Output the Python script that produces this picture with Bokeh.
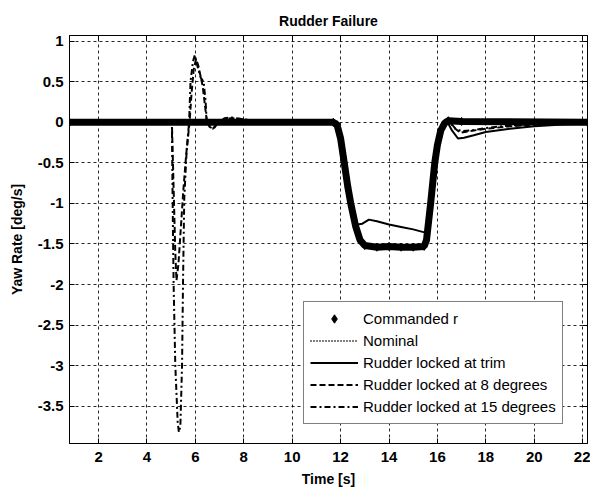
from bokeh.plotting import figure
from bokeh.models import FixedTicker, LinearAxis, Legend, LegendItem
from bokeh.embed import file_html
from bokeh.resources import INLINE

# ---------------- data ----------------
x_ticks = [2, 4, 6, 8, 10, 12, 14, 16, 18, 20, 22]
y_ticks = [-3.5, -3, -2.5, -2, -1.5, -1, -0.5, 0, 0.5, 1]
y_tick_labels = ["-3.5", "-3", "-2.5", "-2", "-1.5", "-1", "-0.5", "0", "0.5", "1"]

t_cmd = [0.8, 11.7, 11.85, 12.0, 12.15, 12.3, 12.42, 12.62, 12.8, 13.0, 13.5, 14.0, 14.5, 15.0, 15.45,
         15.55, 15.72, 15.89, 16.0, 16.14, 16.3, 16.45, 17.0, 22.2]
r_cmd = [0, 0, -0.03, -0.2, -0.5, -0.8, -1.0, -1.28, -1.45, -1.52, -1.54, -1.53, -1.54, -1.54, -1.53,
         -1.45, -1.0, -0.5, -0.28, -0.1, -0.01, 0.02, 0.01, 0]

t_nom = [0.8, 11.7, 11.85, 12.0, 12.15, 12.3, 12.42, 12.62, 12.8, 13.0, 13.5, 14.0, 14.5, 15.0, 15.45,
         15.55, 15.72, 15.89, 16.0, 16.14, 16.3, 16.45, 17.0, 22.2]
r_nom = [0, 0, -0.03, -0.2, -0.5, -0.8, -1.0, -1.28, -1.45, -1.52, -1.53, -1.53, -1.53, -1.53, -1.52,
         -1.44, -1.0, -0.5, -0.28, -0.1, -0.01, 0.02, 0.01, 0]

t_trim = [0.8, 11.7, 11.85, 12.0, 12.15, 12.3, 12.42, 12.55, 12.69, 12.9, 13.17, 13.5, 14.0, 14.5, 15.0,
          15.5, 15.6, 15.75, 15.9, 16.1, 16.3, 16.42, 16.6, 16.85, 17.1, 17.5, 18.0, 19.0, 20.0, 21.0, 22.2]
r_trim = [0, 0, -0.03, -0.2, -0.5, -0.8, -1.0, -1.15, -1.26, -1.25, -1.2, -1.22, -1.26, -1.29, -1.32,
          -1.36, -1.3, -0.95, -0.5, -0.15, -0.02, 0.0, -0.1, -0.2, -0.19, -0.16, -0.12, -0.08, -0.05, -0.03, -0.02]

t_8 = [0.8, 5.03, 5.1, 5.17, 5.22, 5.3, 5.4, 5.5, 5.62, 5.76, 5.84, 5.93, 6.03, 6.12, 6.3, 6.4, 6.48,
       6.6, 6.75, 6.9, 7.2, 7.5, 7.9, 8.4, 9.5, 11.7, 11.85, 12.0, 12.15, 12.3, 12.42, 12.62, 12.8, 13.0,
       14.0, 15.0, 15.45, 15.55, 15.72, 15.89, 16.0, 16.14, 16.3, 16.5, 16.7, 16.95, 17.3, 18.0, 19.0,
       20.0, 21.0, 22.2]
r_8 = [0, 0, -0.8, -1.6, -1.95, -1.75, -1.3, -0.85, -0.4, 0.0, 0.35, 0.65, 0.78, 0.7, 0.45, 0.2, 0.0,
       -0.06, -0.08, -0.02, 0.04, 0.05, 0.04, 0.02, 0, 0, -0.03, -0.2, -0.5, -0.8, -1.0, -1.28, -1.45, -1.52,
       -1.53, -1.53, -1.52, -1.44, -1.0, -0.5, -0.28, -0.1, -0.01, 0.01, -0.07, -0.13, -0.11, -0.08, -0.05,
       -0.03, -0.01, 0]

t_15 = [0.8, 5.03, 5.06, 5.1, 5.17, 5.27, 5.32, 5.38, 5.45, 5.49, 5.54, 5.64, 5.74, 5.8, 5.9, 5.98,
        6.08, 6.22, 6.34, 6.42, 6.47, 6.6, 6.72, 6.9, 7.2, 7.5, 7.9, 8.4, 9.5, 11.7, 11.85, 12.0, 12.15,
        12.3, 12.42, 12.62, 12.8, 13.0, 14.0, 15.0, 15.45, 15.55, 15.72, 15.89, 16.0, 16.14, 16.3, 16.5,
        16.75, 17.0, 17.4, 18.0, 19.0, 20.0, 21.0, 22.2]
r_15 = [0, 0, -0.95, -1.97, -2.99, -3.7, -3.82, -3.75, -2.99, -1.97, -0.95, -0.35, 0.0, 0.5, 0.75, 0.83,
        0.7, 0.55, 0.5, 0.27, 0.0, -0.05, -0.08, -0.02, 0.05, 0.06, 0.04, 0.02, 0, 0, -0.03, -0.2, -0.5,
        -0.8, -1.0, -1.28, -1.45, -1.52, -1.53, -1.53, -1.52, -1.44, -1.0, -0.5, -0.28, -0.1, -0.01, 0.01,
        -0.08, -0.11, -0.1, -0.07, -0.04, -0.02, -0.01, 0]

x_range = (0.8, 22.2)
y_range = (-3.96, 1.07)

# ---------------- figure ----------------
FONT = "Liberation Sans"
p = figure(width=590, height=489, x_range=x_range, y_range=y_range,
           output_backend="svg", toolbar_location=None,
           min_border_left=69, min_border_right=3, min_border_top=35, min_border_bottom=44,
           title="Rudder Failure")
p.title.align = "center"
p.title.text_font = FONT
p.title.text_font_style = "bold"
p.title.text_font_size = "14px"
p.title.text_color = "black"
p.title.standoff = 13

p.outline_line_color = "black"
p.outline_line_width = 1
p.background_fill_color = "white"
p.border_fill_color = "white"

xt = FixedTicker(ticks=x_ticks, minor_ticks=[])
yt = FixedTicker(ticks=y_ticks, minor_ticks=[])

for ax in (p.xaxis[0], p.yaxis[0]):
    ax.major_tick_in = 5
    ax.major_tick_out = 0
    ax.minor_tick_line_color = None
    ax.axis_line_color = "black"
    ax.major_tick_line_color = "black"
    ax.major_label_text_font = FONT
    ax.major_label_text_font_style = "bold"
    ax.major_label_text_font_size = "15px"
    ax.major_label_text_color = "black"
    ax.axis_label_text_font = FONT
    ax.axis_label_text_font_style = "bold"
    ax.axis_label_text_font_size = "14px"
    ax.axis_label_text_color = "black"

p.xaxis[0].ticker = xt
p.yaxis[0].ticker = yt
p.xaxis[0].axis_label = "Time [s]"
p.yaxis[0].axis_label = "Yaw Rate [deg/s]"
p.xaxis[0].major_label_standoff = 8
p.xaxis[0].axis_label_standoff = 6
p.yaxis[0].major_label_standoff = 6
p.yaxis[0].axis_label_standoff = 10
p.yaxis[0].major_label_overrides = {float(v): s for v, s in zip(y_ticks, y_tick_labels)}

# box ticks on top and right (no labels)
for loc, tk in (("above", xt), ("right", yt)):
    ax = LinearAxis(ticker=tk)
    ax.major_tick_in = 5
    ax.major_tick_out = 0
    ax.minor_tick_line_color = None
    ax.axis_line_color = "black"
    ax.major_tick_line_color = "black"
    ax.major_label_text_font_size = "1px"
    ax.major_label_text_color = None
    ax.major_label_standoff = 0
    ax.axis_label_standoff = 0
    p.add_layout(ax, loc)

p.xgrid.ticker = xt
p.ygrid.ticker = yt
for g in (p.xgrid[0], p.ygrid[0]):
    g.grid_line_color = "black"
    g.grid_line_dash = "3 3"
    g.grid_line_width = 1
    g.grid_line_alpha = 0.85

# ---------------- series ----------------
r_c_line = p.line(t_cmd, r_cmd, line_color="black", line_width=7)
r_c_mark = p.scatter(t_cmd, r_cmd, marker="diamond", size=8, color="black")
r_n = p.line(t_nom, r_nom, line_color="black", line_width=2, line_dash="1 2")
r_t = p.line(t_trim, r_trim, line_color="black", line_width=2)
r_8r = p.line(t_8, r_8, line_color="black", line_width=2, line_dash="6 3")
r_15r = p.line(t_15, r_15, line_color="black", line_width=2, line_dash="6 3 2 3")

legend = Legend(items=[
    LegendItem(label="Commanded r", renderers=[r_c_mark]),
    LegendItem(label="Nominal", renderers=[r_n]),
    LegendItem(label="Rudder locked at trim", renderers=[r_t]),
    LegendItem(label="Rudder locked at 8 degrees", renderers=[r_8r]),
    LegendItem(label="Rudder locked at 15 degrees", renderers=[r_15r]),
], location=(234, 19))
legend.glyph_width = 48
legend.glyph_height = 21
legend.label_height = 21
legend.spacing = 1
legend.padding = 6
legend.margin = 0
legend.label_standoff = 5
legend.label_text_font = FONT
legend.label_text_font_size = "15px"
legend.label_text_color = "black"
legend.border_line_color = "black"
legend.border_line_width = 1
legend.background_fill_color = "white"
legend.background_fill_alpha = 1
p.add_layout(legend, "center")

open("out.html", "w").write(file_html(p, INLINE))
